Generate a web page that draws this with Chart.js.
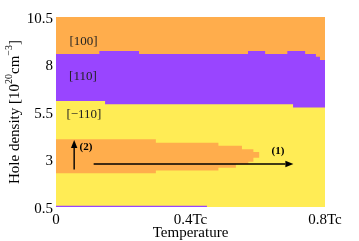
<!DOCTYPE html>
<html>
<head>
<meta charset="utf-8">
<script src="https://cdn.jsdelivr.net/npm/chart.js@4"></script>
<style>body{margin:0;background:#fff}</style>
</head>
<body>
<canvas id="phaseChart" width="359" height="241"></canvas>
<script>
// boundaries: T in units of Tc, density in 1e20 cm^-3
// each point holds its density until the next temperature (stepped)
const upperT = [0, 0.129, 0.247, 0.571, 0.622, 0.688, 0.741, 0.773, 0.785, 0.8];
const upperD = [8.55, 8.71, 8.55, 8.71, 8.55, 8.71, 8.55, 8.41, 8.24, 8.24];
const lowerT = [0, 0.146, 0.705, 0.8];
const lowerD = [6.08, 5.91, 5.74, 5.74];
const bandTopT = [0, 0.297, 0.483, 0.553, 0.587, 0.605];
const bandTopD = [4.06, 3.88, 3.72, 3.54, 3.39, 3.39];
const bandLowT = [0, 0.297, 0.483, 0.535, 0.572, 0.587, 0.605];
const bandLowD = [2.27, 2.42, 2.57, 2.75, 2.88, 3.09, 3.09];
const edgeT = [0, 0.449];
const edgeD = [0.53, 0.53];
const topT = [0, 0.8];
const topD = [10.5, 10.5];

const xTicks = [0, 0.4, 0.8];
const xTickLabels = ['0', '0.4Tc', '0.8Tc'];
const yTicks = [0.5, 3, 5.5, 8, 10.5];
const yTickLabels = ['0.5', '3', '5.5', '8', '10.5'];

const regionLabels = ['[100]', '[110]', '[\u2212110]'];
const regionT = [0.082, 0.08, 0.083];
const regionD = [9.2, 7.34, 5.34];

// arrows: [tStart, dStart, tEnd, dEnd]
const arrows = [[0.112, 2.76, 0.706, 2.76], [0.054, 2.48, 0.054, 4.03]];
const arrowLabels = ['(1)', '(2)'];
const arrowLabelT = [0.660, 0.089];
const arrowLabelD = [3.45, 3.67];

const ORANGE = '#ffad4c';
const PURPLE = '#9945ff';
const YELLOW = '#ffec55';
const SERIF = '"Liberation Serif", "Times New Roman", serif';

const pts = (xs, ys) => xs.map((x, i) => ({x: x, y: ys[i]}));

const area = (label, data, color, fill) => ({
    label: label,
    data: data,
    stepped: true,
    fill: fill,
    backgroundColor: color,
    borderColor: 'rgba(0,0,0,0)',
    borderWidth: 0,
    pointRadius: 0
});

const overlay = {
    id: 'overlay',
    afterDatasetsDraw(chart) {
        const ctx = chart.ctx;
        const xs = chart.scales.x, ys = chart.scales.y;
        ctx.save();
        // region names
        ctx.font = '13px ' + SERIF;
        ctx.fillStyle = '#222';
        ctx.textAlign = 'center';
        ctx.textBaseline = 'middle';
        regionLabels.forEach((t, i) => {
            ctx.fillText(t, xs.getPixelForValue(regionT[i]), ys.getPixelForValue(regionD[i]));
        });
        // arrows
        ctx.strokeStyle = '#000';
        ctx.fillStyle = '#000';
        ctx.lineWidth = 1.4;
        arrows.forEach(a => {
            const x0 = xs.getPixelForValue(a[0]), y0 = ys.getPixelForValue(a[1]);
            const x1 = xs.getPixelForValue(a[2]), y1 = ys.getPixelForValue(a[3]);
            const ang = Math.atan2(y1 - y0, x1 - x0);
            const len = 8, half = 3.2;
            const bx = x1 - len * Math.cos(ang), by = y1 - len * Math.sin(ang);
            ctx.beginPath();
            ctx.moveTo(x0, y0);
            ctx.lineTo(bx, by);
            ctx.stroke();
            ctx.beginPath();
            ctx.moveTo(x1, y1);
            ctx.lineTo(bx - half * Math.sin(ang), by + half * Math.cos(ang));
            ctx.lineTo(bx + half * Math.sin(ang), by - half * Math.cos(ang));
            ctx.closePath();
            ctx.fill();
        });
        ctx.font = 'bold 11px ' + SERIF;
        arrowLabels.forEach((t, i) => {
            ctx.fillText(t, xs.getPixelForValue(arrowLabelT[i]), ys.getPixelForValue(arrowLabelD[i]));
        });
        // y axis title with superscripts
        const parts = [['Hole density [10', 0], ['20', 1], ['cm', 0], ['\u22123', 1], [']', 0]];
        const big = '15px ' + SERIF, small = '10px ' + SERIF;
        let total = 0;
        parts.forEach(p => { ctx.font = p[1] ? small : big; total += ctx.measureText(p[0]).width; });
        const cy = (chart.chartArea.top + chart.chartArea.bottom) / 2;
        ctx.translate(15, cy);
        ctx.rotate(-Math.PI / 2);
        ctx.textAlign = 'left';
        let px = -total / 2;
        parts.forEach(p => {
            ctx.font = p[1] ? small : big;
            ctx.fillText(p[0], px, p[1] ? -6 : 0);
            px += ctx.measureText(p[0]).width;
        });
        ctx.restore();
    }
};

new Chart(document.getElementById('phaseChart'), {
    type: 'line',
    data: {
        datasets: [
            {label: 'bandLow', data: pts(bandLowT, bandLowD), stepped: true, fill: false,
             borderWidth: 0, borderColor: 'rgba(0,0,0,0)', pointRadius: 0},
            area('bandTop', pts(bandTopT, bandTopD), ORANGE, 0),
            {label: 'edge', data: pts(edgeT, edgeD), fill: false, borderColor: PURPLE,
             borderWidth: 1.5, pointRadius: 0},
            area('[-110]', pts(lowerT, lowerD), YELLOW, 'start'),
            area('[110]', pts(upperT, upperD), PURPLE, 'start'),
            area('[100]', pts(topT, topD), ORANGE, 'start')
        ]
    },
    options: {
        responsive: false,
        animation: false,
        layout: {padding: {top: 17, right: 34, left: 0, bottom: 0}},
        plugins: {legend: {display: false}, tooltip: {enabled: false}},
        scales: {
            x: {
                type: 'linear',
                min: 0,
                max: 0.8,
                afterBuildTicks: s => { s.ticks = xTicks.map(v => ({value: v})); },
                afterFit: s => { s.height = 34; },
                grid: {display: false, drawTicks: false},
                border: {display: false},
                ticks: {
                    callback: (v, i) => xTickLabels[i],
                    font: {family: SERIF, size: 15},
                    color: '#000',
                    padding: 4,
                    maxRotation: 0,
                    autoSkip: false
                },
                title: {
                    display: true,
                    text: 'Temperature',
                    font: {family: SERIF, size: 15, lineHeight: 1},
                    color: '#000',
                    padding: {top: 0, bottom: 0}
                }
            },
            y: {
                min: 0.5,
                max: 10.5,
                afterBuildTicks: s => { s.ticks = yTicks.map(v => ({value: v})); },
                afterFit: s => { s.width = 56; },
                grid: {display: false, drawTicks: false},
                border: {display: false},
                ticks: {
                    callback: (v, i) => yTickLabels[i],
                    font: {family: SERIF, size: 15},
                    color: '#000',
                    padding: 3,
                    labelOffset: 2,
                    autoSkip: false
                }
            }
        }
    },
    plugins: [overlay]
});
</script>
</body>
</html>
